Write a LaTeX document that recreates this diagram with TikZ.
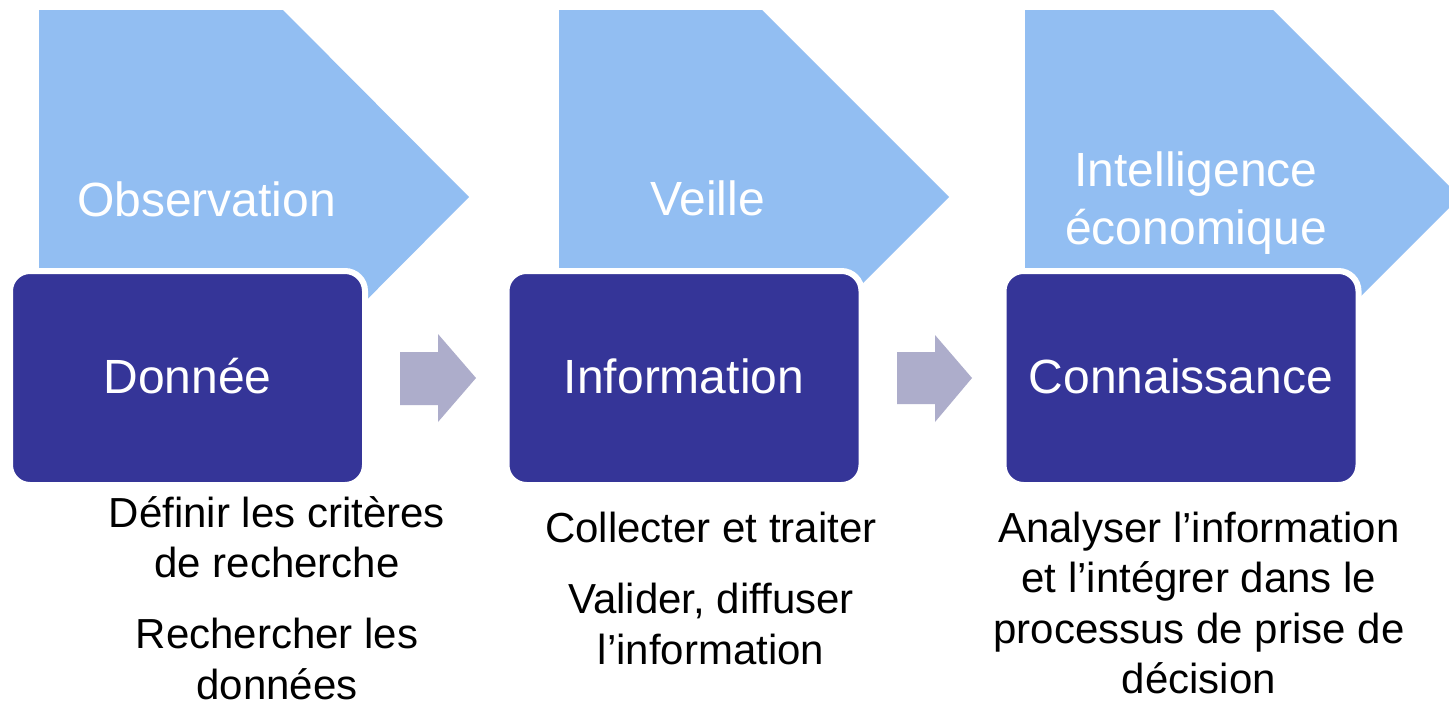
\documentclass[tikz,border=0pt]{standalone}
\usepackage{fontspec}
\setmainfont{Liberation Sans}
\definecolor{penta}{RGB}{146,190,242}
\definecolor{darkbox}{RGB}{53,53,152}
\definecolor{arrowgray}{RGB}{173,173,203}
\begin{document}
\begin{tikzpicture}[x=1pt,y=-1pt,
  pentashape/.style={fill=penta},
  pentatext/.style={text=white,font=\fontsize{48}{57.6}\selectfont,inner sep=0pt,anchor=base},
  stagebox/.style={fill=darkbox,draw=white,line width=6pt,rounded corners=20pt,
    minimum width=355pt,minimum height=214pt,inner sep=0pt,text=white,
    font=\fontsize{48}{57.6}\selectfont,text height=30pt,text depth=0pt},
  blockarrow/.style={fill=arrowgray},
  desc/.style={text=black,font=\fontsize{42}{50.5}\selectfont,inner sep=0pt,anchor=base}]
\clip (0,0) rectangle (1449,705);
\fill[white] (0,0) rectangle (1449,705);

% pentagons (chevrons)
\fill[pentashape] (39,10) -- (283,10) -- (469,197) -- (283,384) -- (39,384) -- cycle;
\fill[pentashape] (559,10) -- (762,10) -- (949,197) -- (762,384) -- (559,384) -- cycle;
\fill[pentashape] (1025,10) -- (1273,10) -- (1460,197) -- (1273,384) -- (1025,384) -- cycle;

\node[pentatext] (p1) at (206.5,216) {Observation};
\node[pentatext] (p2) at (707.5,215) {Veille};
\node[pentatext] (p3a) at (1196,186) {Intelligence};
\node[pentatext] (p3b) at (1196,244) {économique};

% dark boxes
\node[stagebox] (b1) at (187.5,378) {Donnée};
\node[stagebox] (b2) at (684,378) {Information};
\node[stagebox] (b3) at (1181,378) {Connaissance};

% block arrows
\fill[blockarrow] (400,352) -- (438,352) -- (438,334) -- (476,378) -- (438,422) -- (438,405) -- (400,405) -- cycle;
\fill[blockarrow] (897,352) -- (935,352) -- (935,335) -- (972,378) -- (935,422) -- (935,404) -- (897,404) -- cycle;

% descriptions
\node[desc] (d1a) at (277,527) {Définir les critères};
\node[desc] (d1b) at (277,577) {de recherche};
\node[desc] (d1c) at (277,648) {Rechercher les};
\node[desc] (d1d) at (277,699) {données};

\node[desc] (d2a) at (711,542) {Collecter et traiter};
\node[desc] (d2b) at (711,613) {Valider, diffuser};
\node[desc] (d2c) at (711,664) {l’information};

\node[desc] (d3a) at (1199,542) {Analyser l’information};
\node[desc] (d3b) at (1199,592) {et l’intégrer dans le};
\node[desc] (d3c) at (1199,643) {processus de prise de};
\node[desc] (d3d) at (1199,693) {décision};
\end{tikzpicture}
\end{document}
